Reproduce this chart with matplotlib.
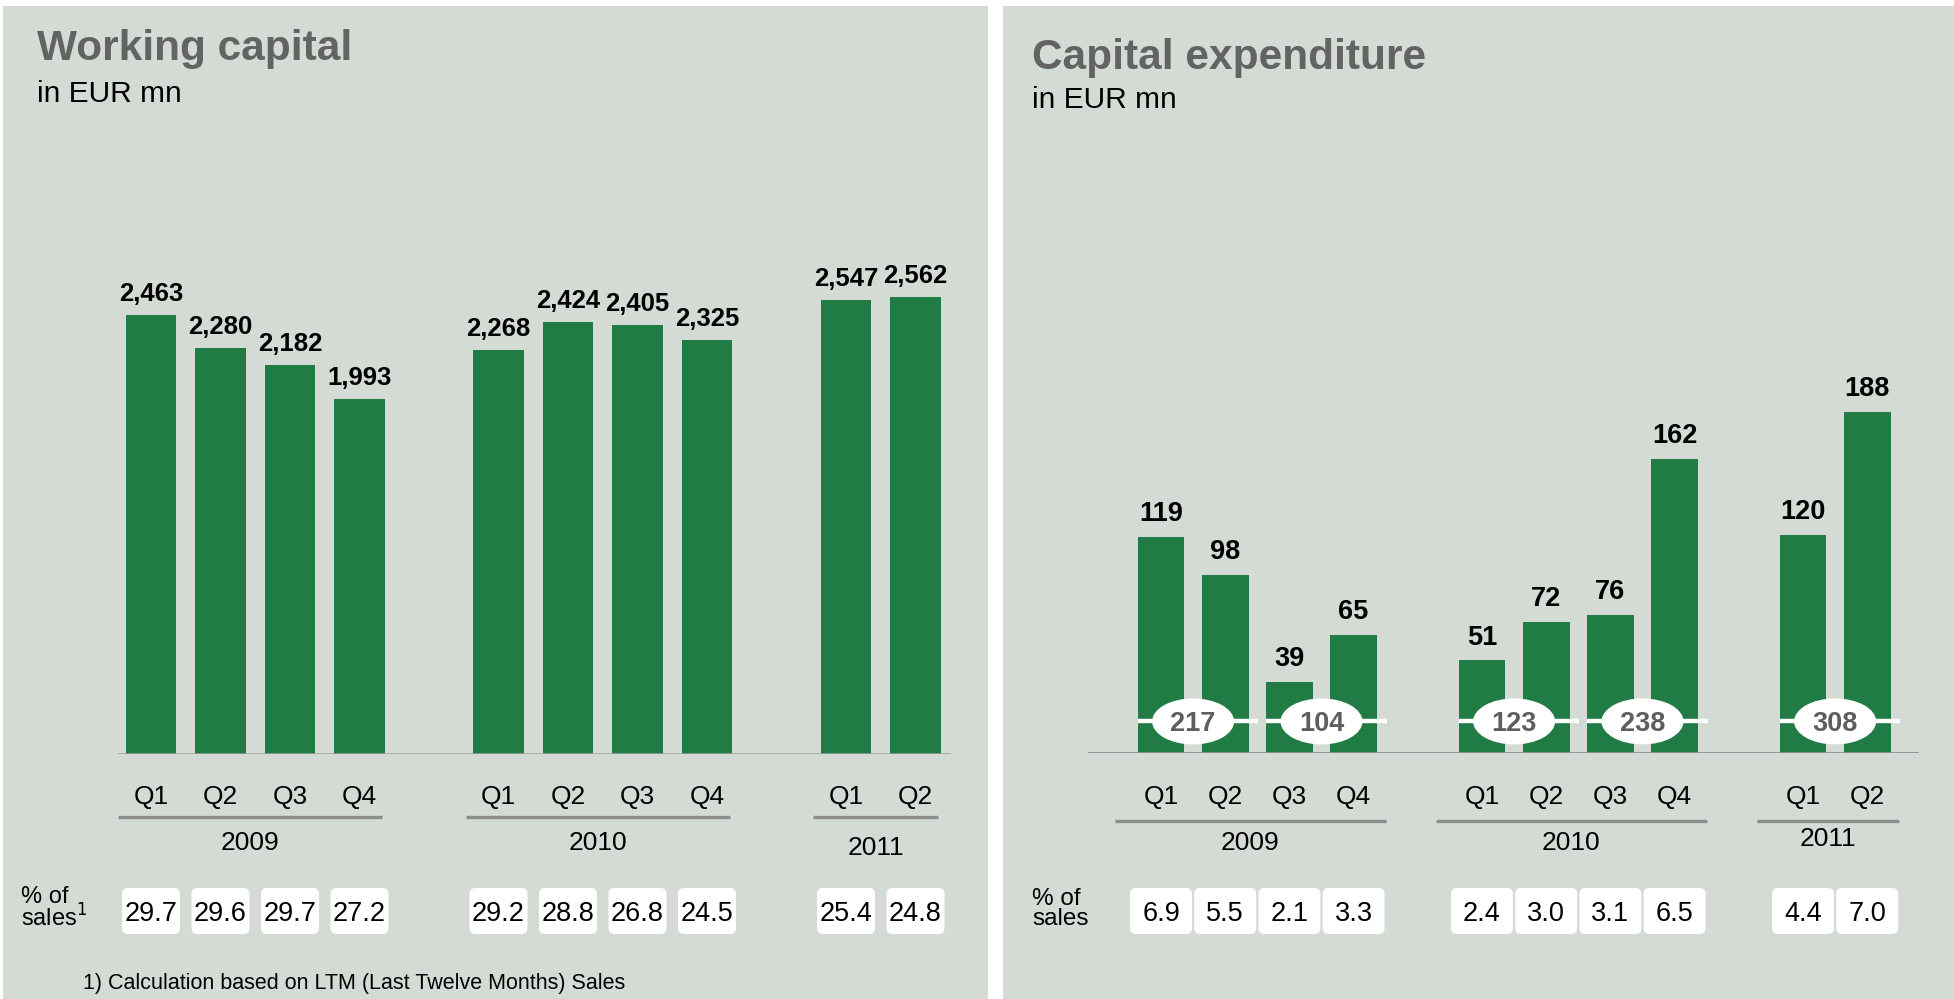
import matplotlib
matplotlib.use("Agg")
import matplotlib.pyplot as plt
from matplotlib.patches import Rectangle, Ellipse, FancyBboxPatch
from matplotlib import font_manager

# ---------------- data ----------------
quarters = ["Q1", "Q2", "Q3", "Q4", "Q1", "Q2", "Q3", "Q4", "Q1", "Q2"]
year_labels = ["2009", "2010", "2011"]
year_of_bar = [0, 0, 0, 0, 1, 1, 1, 1, 2, 2]

wc_values = [2463, 2280, 2182, 1993, 2268, 2424, 2405, 2325, 2547, 2562]
wc_labels = ["2,463", "2,280", "2,182", "1,993", "2,268", "2,424", "2,405", "2,325", "2,547", "2,562"]
wc_pct = ["29.7", "29.6", "29.7", "27.2", "29.2", "28.8", "26.8", "24.5", "25.4", "24.8"]

capex_values = [119, 98, 39, 65, 51, 72, 76, 162, 120, 188]
capex_pct = ["6.9", "5.5", "2.1", "3.3", "2.4", "3.0", "3.1", "6.5", "4.4", "7.0"]
capex_half = [217, 104, 123, 238, 308]
capex_half_pairs = [(0, 1), (2, 3), (4, 5), (6, 7), (8, 9)]

# ---------------- style ----------------
W, H, DPI = 1954, 999, 100
GREEN = "#217b44"
PANEL = "#d4dbd4"
TITLE_GRAY = "#636363"
avail = {f.name for f in font_manager.fontManager.ttflist}
REG = "Liberation Sans"
NARROW = "Liberation Sans Narrow" if "Liberation Sans Narrow" in avail else REG

fig = plt.figure(figsize=(W / DPI, H / DPI), dpi=DPI, facecolor="white")

# overlay axes in pixel coordinates (y from top)
ov = fig.add_axes([0, 0, 1, 1], zorder=0)
ov.set_xlim(0, W)
ov.set_ylim(H, 0)
ov.axis("off")
ov.add_patch(Rectangle((3, 6), 985, H - 6, color=PANEL, lw=0))
ov.add_patch(Rectangle((1003, 6), W - 1003, H - 6, color=PANEL, lw=0))

# x positions: groups separated by one empty slot
positions = [i + g for i, g in enumerate(year_of_bar)]


def make_axes(left_px, right_px, base_px, ymax, px_per_unit):
    height = ymax * px_per_unit
    ax = fig.add_axes([left_px / W, (H - base_px) / H, (right_px - left_px) / W, height / H], zorder=1)
    ax.patch.set_visible(False)
    for s in ax.spines.values():
        s.set_visible(False)
    ax.set_xticks([])
    ax.set_yticks([])
    ax.set_ylim(0, ymax)
    return ax


def px(ax, x):
    return ax.transData.transform((x, 0))[0]


def draw_common(ax, title, title_xy, sub_xy, pct, pct_label, pct_label_x, box_w,
                q_y, line_y, year_y, year_offsets, group_span, line_color, pct_label_size):
    ov.text(title_xy[0], title_xy[1], title, fontsize=30.5, fontweight="bold", color=TITLE_GRAY,
            family=REG, va="center", ha="left")
    ov.text(sub_xy[0], sub_xy[1], "in EUR mn", fontsize=21.5, color="black", family=REG,
            va="center", ha="left")
    # quarter labels
    for p, q in zip(positions, quarters):
        ov.text(px(ax, p), q_y, q, fontsize=19, family=NARROW, ha="center", va="center")
    # group lines and years
    for g, yl in enumerate(year_labels):
        idx = [positions[i] for i in range(len(positions)) if year_of_bar[i] == g]
        x0 = px(ax, min(idx) + group_span[0])
        x1 = px(ax, max(idx) + group_span[1])
        ov.plot([x0, x1], [line_y, line_y], color=line_color, lw=2.4, solid_capstyle="butt")
        ov.text((x0 + x1) / 2, year_y + year_offsets[g], yl,
                fontsize=19, family=NARROW, ha="center", va="center")
    # percent boxes
    for p, t in zip(positions, pct):
        cx = px(ax, p)
        ov.add_patch(FancyBboxPatch((cx - box_w / 2, 888), box_w, 46,
                                    boxstyle="round,pad=0,rounding_size=6",
                                    fc="white", ec="none"))
        ov.text(cx, 911, t, fontsize=19.5, family=NARROW, ha="center", va="center_baseline")
    ov.text(pct_label_x, 909, pct_label, fontsize=pct_label_size, family=REG, ha="left",
            va="center", linespacing=0.85)


# ---------------- left chart: working capital ----------------
wc_scale = 439 / 2463
axL = make_axes(118, 951, 754, 3000, wc_scale)
axL.set_xlim((118 - 151) / 69.5, (951 - 151) / 69.5)
axL.bar(positions, wc_values, width=0.72, color=GREEN, zorder=2)
axL.axhline(0, color="#a0a0a0", lw=1.8, zorder=3)
for p, v, lab in zip(positions, wc_values, wc_labels):
    axL.annotate(lab, (p, v), xytext=(0, 10), textcoords="offset points", ha="center",
                 va="baseline", fontsize=18.5, fontweight="bold", family=REG)

draw_common(axL, "Working capital", (37, 49), (37, 93.5), wc_pct, "% of\nsales$^1$", 21, 58,
            797, 817, 843, [0, 0, 5], (-0.47, 0.33), "#8c8c8c", 17)
ov.text(83, 984, "1) Calculation based on LTM (Last Twelve Months) Sales", fontsize=15.5,
        family=NARROW, ha="left", va="center")

# ---------------- right chart: capital expenditure ----------------
cx_scale = 1.814
axR = make_axes(1088, 1919, 753, 250, cx_scale)
axR.set_xlim((1088 - 1161) / 64.2, (1919 - 1161) / 64.2)
bw = 0.73
axR.bar(positions, capex_values, width=bw, color=GREEN, zorder=2)
axR.axhline(0, color="#8f8f8f", lw=2.0, zorder=3)
for p, v in zip(positions, capex_values):
    axR.annotate(f"{v}", (p, v), xytext=(0, 11.5), textcoords="offset points", ha="center",
                 va="baseline", fontsize=19.5, fontweight="bold", family=NARROW)

ell_y = 17.4
for (a, b), val in zip(capex_half_pairs, capex_half):
    xa, xb = positions[a], positions[b]
    xc = (xa + xb) / 2
    axR.plot([xa - bw / 2, xb + bw / 2 + 0.15], [ell_y, ell_y], color="white", lw=3.2, zorder=4,
             solid_capstyle="butt")
    axR.add_patch(Ellipse((xc, ell_y), 82 / 64.2, 46 / cx_scale, fc="white", ec="none", zorder=5))
    axR.text(xc, ell_y, f"{val}", ha="center", va="center_baseline", fontsize=19.5,
             fontweight="bold", color="#5e5e5e", family=NARROW, zorder=6)

draw_common(axR, "Capital expenditure", (1032, 58), (1032, 99.5), capex_pct, "% of\nsales", 1032, 62,
            797, 821, 843, [0, 0, -4], (-0.72, 0.5), "#8c8c8c", 17.5)

fig.savefig("out.png", dpi=DPI, facecolor="white")
